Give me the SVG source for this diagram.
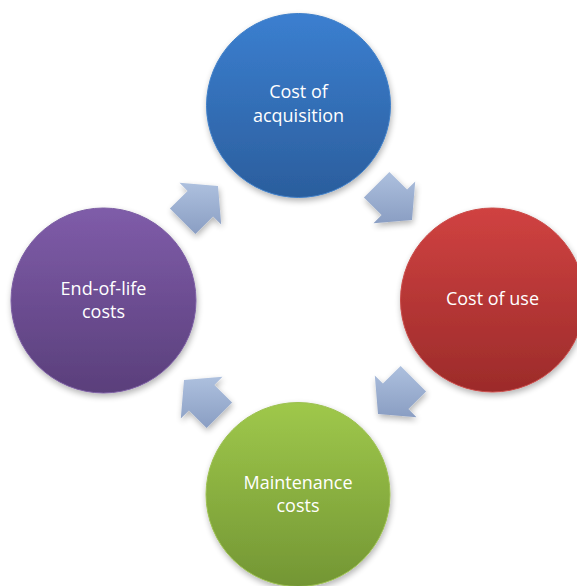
<svg xmlns="http://www.w3.org/2000/svg" width="577" height="586" viewBox="0 0 577 586">
<defs>
<linearGradient id="gBlue" x1="0" y1="0" x2="0" y2="1"><stop offset="0" stop-color="#3b7fd0"/><stop offset="1" stop-color="#2b5e9d"/></linearGradient>
<linearGradient id="gRed" x1="0" y1="0" x2="0" y2="1"><stop offset="0" stop-color="#d04241"/><stop offset="1" stop-color="#9c2b2a"/></linearGradient>
<linearGradient id="gGreen" x1="0" y1="0" x2="0" y2="1"><stop offset="0" stop-color="#9fc84b"/><stop offset="1" stop-color="#739634"/></linearGradient>
<linearGradient id="gPurple" x1="0" y1="0" x2="0" y2="1"><stop offset="0" stop-color="#7f5ca9"/><stop offset="1" stop-color="#5a3f7b"/></linearGradient>
<linearGradient id="gArrow" x1="0" y1="0" x2="0" y2="1"><stop offset="0" stop-color="#adc0de"/><stop offset="1" stop-color="#8a9ec3"/></linearGradient>
<filter id="shadow" x="-20%" y="-20%" width="150%" height="150%">
<feGaussianBlur in="SourceAlpha" stdDeviation="3"/>
<feOffset dx="1" dy="3" result="b"/>
<feComponentTransfer><feFuncA type="linear" slope="0.3"/></feComponentTransfer>
<feMerge><feMergeNode/><feMergeNode in="SourceGraphic"/></feMerge>
</filter>
</defs>
<style>
.node circle{filter:url(#shadow);stroke-width:1}
.lbl{font-family:"Open Sans","Noto Sans","Liberation Sans",sans-serif;font-size:18px;fill:#ffffff;text-anchor:middle}
.arr{fill:url(#gArrow);filter:url(#shadow)}
</style>
<rect width="577" height="586" fill="#ffffff"/>
<g id="connectors">
<polygon class="arr" points="218,186 179.5,182.8 187.6,190.9 169.9,208.6 195.4,234.1 213.1,216.4 221.2,224.5"/>
<polygon class="arr" points="412,220 415.2,181.5 407.1,189.6 389.4,171.9 363.9,197.4 381.6,215.1 373.5,223.2"/>
<polygon class="arr" points="378,414 416.5,417.2 408.4,409.1 426.1,391.4 400.6,365.9 382.9,383.6 374.8,375.5"/>
<polygon class="arr" points="184,380 180.8,418.5 188.9,410.4 206.6,428.1 232.1,402.6 214.4,384.9 222.5,376.8"/>
</g>
<g id="node-acquisition" class="node">
<circle cx="298.5" cy="105.5" r="92" fill="url(#gBlue)" stroke="#3f7fc8"/>
<text class="lbl" x="298.5" y="98">Cost of</text>
<text class="lbl" x="298.5" y="121.5">acquisition</text>
</g>
<g id="node-use" class="node">
<circle cx="492.5" cy="300" r="92" fill="url(#gRed)" stroke="#c94a48"/>
<text class="lbl" x="492.5" y="305">Cost of use</text>
</g>
<g id="node-maintenance" class="node">
<circle cx="298" cy="494.5" r="92" fill="url(#gGreen)" stroke="#9cc050"/>
<text class="lbl" x="298" y="488.5">Maintenance</text>
<text class="lbl" x="298" y="512">costs</text>
</g>
<g id="node-eol" class="node">
<circle cx="103.5" cy="300.5" r="92.5" fill="url(#gPurple)" stroke="#7c5ea3"/>
<text class="lbl" x="103.5" y="294.5">End-of-life</text>
<text class="lbl" x="103.5" y="317.5">costs</text>
</g>
</svg>
